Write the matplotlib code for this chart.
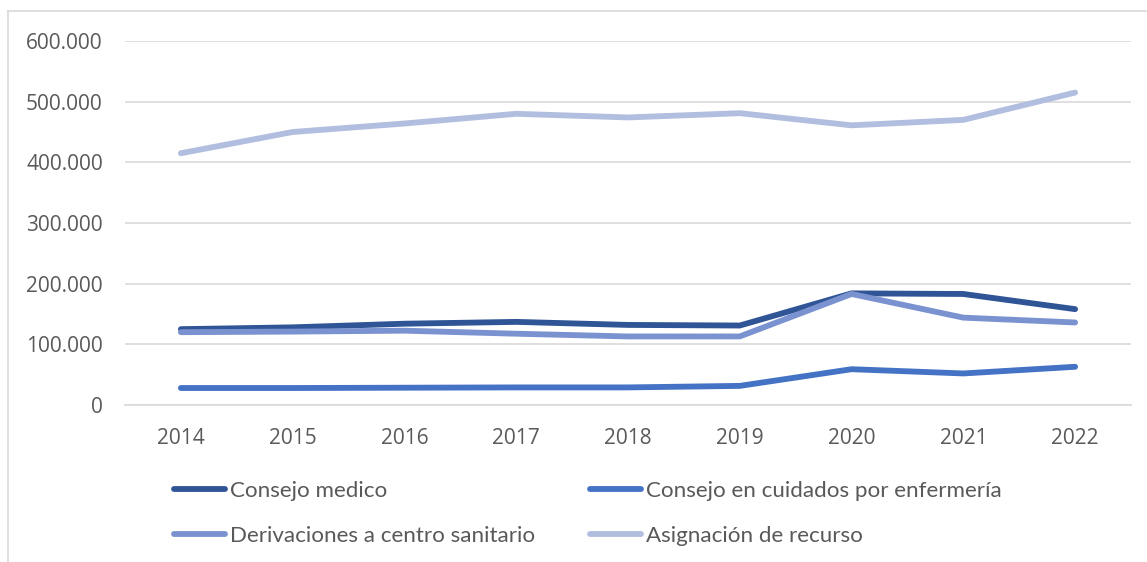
import matplotlib.pyplot as plt
from matplotlib.lines import Line2D
from matplotlib.ticker import FuncFormatter

plt.rcParams['font.family'] = ['Open Sans', 'DejaVu Sans']

years = ['2014', '2015', '2016', '2017', '2018', '2019', '2020', '2021', '2022']
consejo_medico = [125000, 128000, 134000, 137000, 132000, 131000, 184000, 183000, 158000]
consejo_enfermeria = [28000, 28000, 28500, 29000, 29000, 31500, 59000, 52000, 63000]
derivaciones = [120000, 121000, 122500, 117500, 113000, 113000, 183000, 144000, 136000]
asignacion = [415000, 450000, 464000, 480000, 474000, 481000, 461000, 470000, 515000]

labels = ['Consejo medico', 'Consejo en cuidados por enfermería',
          'Derivaciones a centro sanitario', 'Asignación de recurso']
colors = ['#2F5597', '#4472C4', '#7A93D0', '#B2BEDF']

fig = plt.figure(figsize=(11.47, 5.62), dpi=100)
ax = fig.add_axes([125 / 1147, 1 - 405 / 562, (1131 - 125) / 1147, (405 - 41) / 562])

x = range(len(years))
series = [consejo_medico, consejo_enfermeria, derivaciones, asignacion]
lines = []
for vals, lab, col in zip(series, labels, colors):
    l, = ax.plot(x, vals, color=col, lw=4.2, label=lab, solid_capstyle='round', solid_joinstyle='round')
    lines.append(l)

ax.set_xlim(-0.5, len(years) - 0.5)
ax.set_ylim(0, 600000)
ax.set_yticks(range(0, 600001, 100000))
ax.yaxis.set_major_formatter(FuncFormatter(lambda v, p: f'{int(v):,}'.replace(',', '.')))
ax.set_xticks(list(x))
ax.set_xticklabels(years)
ax.grid(axis='y', color='#d9d9d9', lw=1.2)
ax.set_axisbelow(True)
for s in ['top', 'right', 'left']:
    ax.spines[s].set_visible(False)
ax.spines['bottom'].set_color('#d9d9d9')
ax.spines['bottom'].set_linewidth(1.2)
ax.tick_params(length=0, labelsize=15, colors='#595959')
ax.tick_params(axis='y', pad=16)
ax.tick_params(axis='x', pad=16.5)

# legend filled row by row like the original
order = [0, 2, 1, 3]
leg = fig.legend([lines[i] for i in order], [labels[i] for i in order],
                 loc='upper left', bbox_to_anchor=(174 / 1147, 1 - 481 / 562), ncol=2,
                 frameon=False, prop={'family': ['Lato', 'DejaVu Sans'], 'size': 16.1},
                 handlelength=2.3, handletextpad=0.2,
                 columnspacing=2.45, labelspacing=1.1, borderpad=0, borderaxespad=0)
for t in leg.get_texts():
    t.set_color('#595959')

# outer chart border (top and left visible)
fig.add_artist(Line2D([8 / 1147, 1], [1 - 11 / 562, 1 - 11 / 562], transform=fig.transFigure,
                      color='#d9d9d9', lw=1.2))
fig.add_artist(Line2D([8 / 1147, 8 / 1147], [0, 1 - 11 / 562], transform=fig.transFigure,
                      color='#d9d9d9', lw=1.2))

fig.savefig('out.png', dpi=100)
